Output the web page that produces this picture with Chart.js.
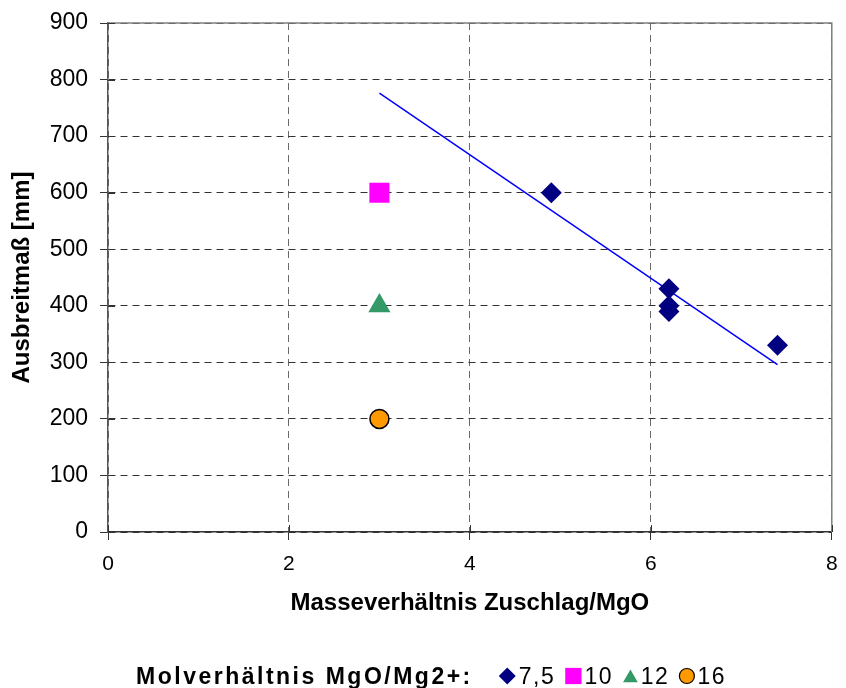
<!DOCTYPE html>
<html>
<head>
<meta charset="utf-8">
<script src="https://cdn.jsdelivr.net/npm/chart.js@4.4.1/dist/chart.umd.min.js"></script>
<style>
  html, body { margin: 0; padding: 0; background: #ffffff; }
  #wrap { width: 846px; height: 688px; }
</style>
</head>
<body>
<div id="wrap"><canvas id="c" width="846" height="688"></canvas></div>
<script>
// ---- data ----
const seriesNames = ['7,5', '10', '12', '16'];
const x75 = [4.9, 6.2, 6.2, 6.2, 7.4];
const y75 = [600, 430, 400, 390, 330];
const x10 = [3];
const y10 = [600];
const x12 = [3];
const y12 = [400];
const x16 = [3];
const y16 = [200];
const trendX = [3, 7.4];
const trendY = [776, 296];
const xAxisTitle = 'Masseverhältnis Zuschlag/MgO';
const yAxisTitle = 'Ausbreitmaß [mm]';
const legendTitle = 'Molverhältnis MgO/Mg2+:';
const xMin = 0, xMax = 8, xStep = 2;
const yMin = 0, yMax = 900, yStep = 100;

const pts = (xs, ys) => xs.map((x, i) => ({ x: x, y: ys[i] }));

const styles = [
  { pointStyle: 'rectRot', bg: '#000080', border: '#000080', r: 10.5, bw: 0, lr: 8.5 },
  { pointStyle: 'rect', bg: '#FF00FF', border: '#FF00FF', r: 14.2, bw: 0, lr: 11.5 },
  { pointStyle: 'triangle', bg: '#339966', border: '#339966', r: 12.8, bw: 0, lr: 8.5 },
  { pointStyle: 'circle', bg: '#FF9900', border: '#000000', r: 9.5, bw: 1.5, lr: 7.5 }
];
const seriesData = [pts(x75, y75), pts(x10, y10), pts(x12, y12), pts(x16, y16)];

const datasets = seriesData.map((d, i) => ({
  label: seriesNames[i],
  data: d,
  showLine: false,
  pointStyle: styles[i].pointStyle,
  pointRadius: styles[i].r,
  pointHoverRadius: styles[i].r,
  backgroundColor: styles[i].bg,
  borderColor: styles[i].border,
  pointBorderWidth: styles[i].bw,
  order: 1
}));
datasets.push({
  label: 'trend',
  data: pts(trendX, trendY),
  showLine: true,
  pointRadius: 0,
  borderColor: '#0000FF',
  borderWidth: 1.5,
  fill: false,
  order: 2
});

const CHART_LEFT = 108, CHART_RIGHT = 836, CHART_TOP = 23, CHART_BOTTOM = 532;
const W = 846, H = 688;
const LEGEND_SPACE = 70;
const FAM = '"Liberation Sans", Arial, sans-serif';

const framePlugin = {
  id: 'frame',
  beforeDatasetsDraw(chart) {
    const { ctx, chartArea: a, scales } = chart;
    ctx.save();
    ctx.strokeStyle = '#808080';
    ctx.lineWidth = 1.5;
    ctx.beginPath();
    ctx.moveTo(a.left, a.top);
    ctx.lineTo(a.right, a.top);
    ctx.lineTo(a.right, a.bottom);
    ctx.stroke();
    ctx.strokeStyle = '#333333';
    ctx.lineWidth = 1;
    ctx.beginPath();
    scales.y.ticks.forEach(t => {
      const py = Math.round(scales.y.getPixelForValue(t.value)) + 0.5;
      ctx.moveTo(a.left, py);
      ctx.lineTo(a.left + 7, py);
    });
    scales.x.ticks.forEach(t => {
      const px = Math.round(scales.x.getPixelForValue(t.value)) + 0.5;
      ctx.moveTo(px, a.bottom);
      ctx.lineTo(px, a.bottom - 7);
    });
    ctx.stroke();
    ctx.restore();
  }
};

function drawMarker(ctx, style, r, x, y, st) {
  ctx.save();
  ctx.fillStyle = st.bg;
  ctx.strokeStyle = st.border;
  ctx.lineWidth = st.bw ? 1.2 : 0;
  if (Chart.helpers && Chart.helpers.drawPoint) {
    Chart.helpers.drawPoint(ctx, { pointStyle: style, radius: r, rotation: 0, borderWidth: st.bw ? 1.2 : 0 }, x, y);
  }
  ctx.restore();
}

const legendPlugin = {
  id: 'customLegend',
  afterDraw(chart) {
    const ctx = chart.ctx;
    ctx.save();
    const baseY = 684;
    const midY = 676;
    ctx.textBaseline = 'alphabetic';
    ctx.textAlign = 'left';
    ctx.fillStyle = '#000000';
    ctx.font = 'bold 23px ' + FAM;
    ctx.letterSpacing = '2.5px';
    const titleW = ctx.measureText(legendTitle).width;
    ctx.font = '23px ' + FAM;
    ctx.letterSpacing = '1.5px';
    const labelW = seriesNames.map(s => ctx.measureText(s).width);
    const gapAfterTitle = 26, gapMarker = 3, gapItem = 10;
    const mW = styles.map(s => s.pointStyle === 'rect' ? s.lr * 1.414 : (s.pointStyle === 'triangle' ? s.lr * 1.732 : s.lr * 2));
    let total = titleW + gapAfterTitle;
    seriesNames.forEach((s, i) => { total += mW[i] + gapMarker + labelW[i] + (i < seriesNames.length - 1 ? gapItem : 0); });
    let x = 431 - total / 2;
    ctx.font = 'bold 23px ' + FAM;
    ctx.letterSpacing = '2.5px';
    ctx.fillText(legendTitle, x, baseY);
    x += titleW + gapAfterTitle;
    seriesNames.forEach((s, i) => {
      const st = styles[i];
      drawMarker(ctx, st.pointStyle, st.lr, x + mW[i] / 2, midY + (st.pointStyle === 'triangle' ? 2 : 0), st);
      x += mW[i] + gapMarker;
      ctx.font = '23px ' + FAM;
      ctx.letterSpacing = '1.5px';
      ctx.fillStyle = '#000000';
      ctx.fillText(s, x, baseY);
      x += labelW[i] + gapItem;
    });
    ctx.restore();
  }
};

new Chart(document.getElementById('c'), {
  type: 'scatter',
  data: { datasets: datasets },
  options: {
    responsive: false,
    animation: false,
    devicePixelRatio: 1,
    layout: { padding: { left: 0, right: W - CHART_RIGHT, top: CHART_TOP, bottom: LEGEND_SPACE } },
    plugins: {
      legend: { display: false },
      tooltip: { enabled: false }
    },
    scales: {
      x: {
        type: 'linear',
        min: xMin, max: xMax,
        afterFit(scale) {
          scale.height = H - LEGEND_SPACE - CHART_BOTTOM;
          scale.paddingLeft = 0; scale.paddingRight = 0;
        },
        ticks: {
          stepSize: xStep,
          color: '#000000',
          padding: 12,
          font: { family: FAM, size: 21 }
        },
        grid: {
          color: '#6a6a6a',
          lineWidth: 1,
          drawTicks: true,
          tickLength: 8,
          tickColor: '#333333',
          tickBorderDash: [],
          tickWidth: 1
        },
        border: { display: true, color: '#333333', width: 1.5, dash: [7, 5] },
        title: {
          display: true,
          text: xAxisTitle,
          color: '#000000',
          padding: { top: 0, bottom: 0 },
          font: { family: FAM, size: 24, weight: 'bold' }
        }
      },
      y: {
        type: 'linear',
        min: yMin, max: yMax,
        afterFit(scale) {
          scale.width = CHART_LEFT;
          scale.paddingTop = 0; scale.paddingBottom = 0;
        },
        ticks: {
          stepSize: yStep,
          color: '#000000',
          padding: 12,
          font: { family: FAM, size: 23 }
        },
        grid: {
          color: '#333333',
          lineWidth: 1,
          drawTicks: true,
          tickLength: 8,
          tickColor: '#333333',
          tickBorderDash: [],
          tickWidth: 1
        },
        border: { display: true, color: '#555555', width: 1.5, dash: [7, 5] },
        title: {
          display: true,
          text: yAxisTitle,
          color: '#000000',
          padding: { top: 8, bottom: 8 },
          font: { family: FAM, size: 24, weight: 'bold' }
        }
      }
    }
  },
  plugins: [framePlugin, legendPlugin]
});
</script>
</body>
</html>
